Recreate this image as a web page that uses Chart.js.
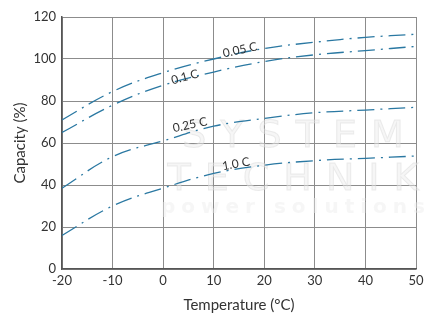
<!DOCTYPE html>
<html>
<head>
<meta charset="utf-8">
<script src="https://cdn.jsdelivr.net/npm/chart.js@4"></script>
<style>
  html, body { margin: 0; padding: 0; background: #fff; }
  #wrap { width: 448px; height: 326px; }
</style>
</head>
<body>
<div id="wrap"><canvas id="capacity" width="448" height="326"></canvas></div>
<script>
// temperature (°C) and capacity (%) per discharge rate
const temps = [-20, -10, 0, 10, 20, 30, 40, 50];
const rate005 = [71, 84.5, 93.5, 100, 105, 108, 110.3, 111.8];
const rate01 = [65, 78, 87.5, 93.8, 98.8, 102, 104, 106];
const rate025 = [38.5, 53.5, 61, 68, 71.7, 74.4, 75.7, 77];
const rate10 = [16, 30, 38.5, 45.5, 49.4, 51.6, 52.7, 53.8];
const rateNames = ["0.05 C", "0.1 C", "0.25 C", "1.0 C"];
// where each rate name sits, in chart units, and its tilt
const nameX = [15.2, 4.3, 5.3, 14.4];
const nameY = [104.3, 91.4, 68.6, 50];
const nameTilt = [-12, -15, -12, -10];

const lineColor = "#2a78a2";
const font = "Lato, 'Open Sans', sans-serif";

const toPoints = vals => vals.map((v, i) => ({ x: temps[i], y: v }));

const makeSet = (label, vals) => ({
  label: label,
  data: toPoints(vals),
  borderColor: lineColor,
  borderWidth: 1.3,
  borderDash: [17, 6, 2, 6],
  pointRadius: 0,
  tension: 0.4,
  fill: false
});

// faint company mark behind the curves
const watermark = {
  id: "watermark",
  beforeDatasetsDraw(chart) {
    const ctx = chart.ctx;
    ctx.save();
    ctx.fillStyle = "rgba(235,235,235,0.45)";
    ctx.strokeStyle = "rgba(215,215,215,0.45)";
    ctx.lineWidth = 1;
    ctx.textAlign = "center";
    ctx.textBaseline = "middle";
    ctx.font = "38px 'DejaVu Sans'";
    ctx.letterSpacing = "14px";
    ctx.fillText("SYSTEM", 300, 137);
    ctx.strokeText("SYSTEM", 300, 137);
    ctx.fillText("TECHNIK", 300, 180);
    ctx.strokeText("TECHNIK", 300, 180);
    ctx.font = "bold 20px 'DejaVu Sans'";
    ctx.letterSpacing = "6px";
    ctx.fillText("power solutions", 296, 208);
    ctx.restore();
  }
};

// rate names written along the curves
const rateLabels = {
  id: "rateLabels",
  afterDatasetsDraw(chart) {
    const ctx = chart.ctx;
    const xs = chart.scales.x;
    const ys = chart.scales.y;
    ctx.save();
    ctx.fillStyle = "#333";
    ctx.font = "12px " + font;
    ctx.textAlign = "center";
    ctx.textBaseline = "middle";
    rateNames.forEach((name, i) => {
      ctx.save();
      ctx.translate(xs.getPixelForValue(nameX[i]), ys.getPixelForValue(nameY[i]));
      ctx.rotate(nameTilt[i] * Math.PI / 180);
      ctx.fillText(name, 0, 0);
      ctx.restore();
    });
    ctx.restore();
  }
};

const ctx = document.getElementById("capacity").getContext("2d");
const chart = new Chart(ctx, {
  type: "line",
  data: {
    datasets: [
      makeSet(rateNames[0], rate005),
      makeSet(rateNames[1], rate01),
      makeSet(rateNames[2], rate025),
      makeSet(rateNames[3], rate10)
    ]
  },
  options: {
    responsive: false,
    animation: false,
    layout: { padding: { left: 11, right: 32, top: 17, bottom: 12 } },
    plugins: {
      legend: { display: false },
      tooltip: { enabled: false }
    },
    scales: {
      x: {
        type: "linear",
        min: -20,
        max: 50,
        ticks: { stepSize: 10, color: "#333", font: { family: font, size: 13 }, padding: 4 },
        grid: { color: "#8c8c8c", lineWidth: 1, drawTicks: false },
        border: { color: "#555", width: 1.5 },
        title: {
          display: true,
          text: "Temperature (°C)",
          color: "#333",
          font: { family: font, size: 15 },
          padding: { top: 8, bottom: 0 }
        },
        afterFit: axis => { axis.height = 45; }
      },
      y: {
        min: 0,
        max: 120,
        ticks: { stepSize: 20, color: "#333", font: { family: font, size: 13 }, padding: 6 },
        grid: { color: "#8c8c8c", lineWidth: 1, drawTicks: false },
        border: { color: "#555", width: 1.5 },
        title: {
          display: true,
          text: "Capacity (%)",
          color: "#333",
          font: { family: font, size: 15 },
          padding: { top: 0, bottom: 4 }
        },
        afterFit: axis => { axis.width = 51; }
      }
    }
  },
  plugins: [watermark, rateLabels]
});
</script>
</body>
</html>
